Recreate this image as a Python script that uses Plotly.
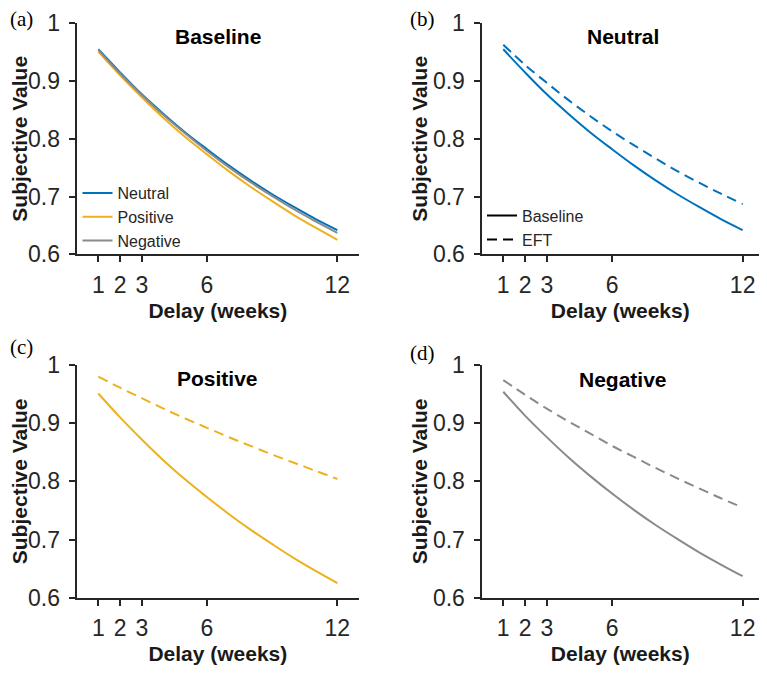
import plotly.graph_objects as go

# ---- data ----
delay_weeks = [1, 2, 3, 4, 5, 6, 7, 8, 9, 10, 11, 12]
baseline_neutral = [0.955, 0.915, 0.877, 0.843, 0.811, 0.782, 0.754, 0.728, 0.704, 0.682, 0.661, 0.642]
baseline_positive = [0.951, 0.910, 0.872, 0.836, 0.803, 0.773, 0.744, 0.717, 0.692, 0.668, 0.646, 0.625]
baseline_negative = [0.954, 0.913, 0.876, 0.841, 0.809, 0.779, 0.751, 0.725, 0.701, 0.678, 0.657, 0.637]
eft_neutral = [0.963, 0.928, 0.897, 0.867, 0.839, 0.813, 0.789, 0.766, 0.744, 0.724, 0.705, 0.687]
eft_positive = [0.980, 0.961, 0.943, 0.925, 0.908, 0.892, 0.876, 0.861, 0.846, 0.832, 0.818, 0.804]
eft_negative = [0.974, 0.949, 0.925, 0.903, 0.882, 0.861, 0.842, 0.823, 0.805, 0.788, 0.771, 0.755]

x_tickvals = [1, 2, 3, 6, 12]
x_ticktext = ["1", "2", "3", "6", "12"]
y_tickvals = [0.6, 0.7, 0.8, 0.9, 1.0]
y_ticktext = ["0.6", "0.7", "0.8", "0.9", "1"]

panel_titles = ["Baseline", "Neutral", "Positive", "Negative"]
panel_labels = ["(a)", "(b)", "(c)", "(d)"]

BLUE = "#0072BD"
YELLOW = "#EDB120"
GRAY = "#8a8a8a"
AXC = "#262626"
SANS = "Liberation Sans, Arial, sans-serif"
SERIF = "Liberation Serif, Times New Roman, serif"
DASH = "10px,6px"

# page puts the figure 8px from the top-left corner; figure sized to fit the window
OFF = 8
W, H = 767 - 2 * OFF, 674 - 2 * OFF

fig = go.Figure()

def add_line(x, y, color, dash, ax, name=None, legend=None, show=False):
    fig.add_trace(go.Scatter(
        x=x, y=y, mode="lines", name=name,
        line=dict(color=color, width=2, dash=dash, shape="spline", smoothing=1),
        xaxis="x" + ax, yaxis="y" + ax, showlegend=show,
        legend=legend, hoverinfo="skip"))

# (a) Baseline
add_line(delay_weeks, baseline_neutral, BLUE, "solid", "", "Neutral", "legend", True)
add_line(delay_weeks, baseline_positive, YELLOW, "solid", "", "Positive", "legend", True)
add_line(delay_weeks, baseline_negative, GRAY, "solid", "", "Negative", "legend", True)
# (b) Neutral
add_line(delay_weeks, baseline_neutral, BLUE, "solid", "2")
add_line(delay_weeks, eft_neutral, BLUE, DASH, "2")
add_line([None], [None], "black", "solid", "2", "Baseline", "legend2", True)
add_line([None], [None], "black", DASH, "2", "EFT", "legend2", True)
# (c) Positive
add_line(delay_weeks, baseline_positive, YELLOW, "solid", "3")
add_line(delay_weeks, eft_positive, YELLOW, DASH, "3")
# (d) Negative
add_line(delay_weeks, baseline_negative, GRAY, "solid", "4")
add_line(delay_weeks, eft_negative, GRAY, DASH, "4")

def px(v):
    return v - OFF

# plot-area geometry (target screen pixels)
col_x = [(76.6, 359.1), (481.5, 764.4)]
row_y = [(23.3, 254.3), (365.0, 597.7)]
x_per_unit = 21.75

def xdom_range(c):
    l, r = px(col_x[c][0]), px(col_x[c][1])
    xmax = 13.0
    if r > W:
        xmax = 13.0 - (r - W) / x_per_unit
        r = W
    return [l / W, r / W], [0, xmax]

def ydom(r):
    return [1 - px(row_y[r][1]) / H, 1 - px(row_y[r][0]) / H]

axis_common = dict(
    showline=True, linecolor=AXC, linewidth=2, ticks="outside", ticklen=6,
    tickwidth=2, tickcolor=AXC, showgrid=False, zeroline=False,
    tickfont=dict(family=SANS, size=23, color=AXC),
)
title_font = dict(family=SANS, size=21, color="#1a1a1a")

layout = dict(
    width=W, height=H, margin=dict(l=0, r=0, t=0, b=0, autoexpand=False),
    paper_bgcolor="white", plot_bgcolor="white",
    font=dict(family=SANS, color=AXC),
)
for i in range(4):
    r, c = divmod(i, 2)
    sfx = "" if i == 0 else str(i + 1)
    dom, rng = xdom_range(c)
    layout["xaxis" + sfx] = dict(
        axis_common, domain=dom, range=rng,
        tickvals=x_tickvals, ticktext=x_ticktext, ticklabelstandoff=3,
        anchor="y" + sfx,
        title=dict(text="<b>Delay (weeks)</b>", font=title_font, standoff=6),
    )
    layout["yaxis" + sfx] = dict(
        axis_common, domain=ydom(r), range=[0.6, 1.0],
        tickvals=y_tickvals, ticktext=y_ticktext, ticklabelstandoff=4,
        anchor="x" + sfx,
        title=dict(text="<b>Subjective Value</b>", font=title_font, standoff=0),
    )

leg_font = dict(family=SANS, size=16, color=AXC)
layout["legend"] = dict(
    x=px(77.5) / W, y=1 - px(258.1) / H, xanchor="left", yanchor="bottom",
    bgcolor="rgba(0,0,0,0)", borderwidth=0, tracegroupgap=0, font=leg_font,
)
layout["legend2"] = dict(
    x=px(482.0) / W, y=1 - px(256.7) / H, xanchor="left", yanchor="bottom",
    bgcolor="rgba(0,0,0,0)", borderwidth=0, tracegroupgap=0, font=leg_font,
)

annotations = []
title_pos = [(217.8, 36.7), (623.0, 36.7), (217.8, 378.5), (623.0, 379.0)]
label_pos = [(5, 19), (408, 19), (7, 347), (408, 353)]
for i in range(4):
    tx, ty = title_pos[i]
    annotations.append(dict(
        text="<b>" + panel_titles[i] + "</b>", x=px(tx) / W, y=1 - px(ty) / H,
        xref="paper", yref="paper", xanchor="center", yanchor="middle",
        showarrow=False, font=dict(family=SANS, size=21, color="black")))
    lx, ly = label_pos[i]
    annotations.append(dict(
        text=panel_labels[i], x=max(px(lx), 0) / W, y=1 - px(ly) / H,
        xref="paper", yref="paper", xanchor="left", yanchor="middle",
        showarrow=False, font=dict(family=SERIF, size=21, color="black")))
layout["annotations"] = annotations

fig.update_layout(**layout)
fig.write_html("out.html")
